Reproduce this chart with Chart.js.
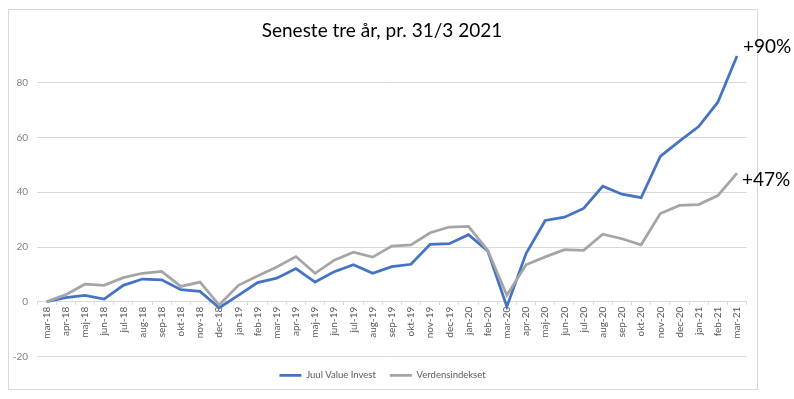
<!DOCTYPE html>
<html>
<head>
<meta charset="utf-8">
<script src="https://cdn.jsdelivr.net/npm/chart.js@4/dist/chart.umd.min.js"></script>
<style>
    html, body { margin: 0; padding: 0; background: #ffffff; }
    #wrap { width: 794px; height: 399px; }
</style>
</head>
<body>
<div id="wrap"><canvas id="returnChart"></canvas></div>
<script>
const months = ['mar-18', 'apr-18', 'maj-18', 'jun-18', 'jul-18', 'aug-18', 'sep-18', 'okt-18', 'nov-18', 'dec-18',
    'jan-19', 'feb-19', 'mar-19', 'apr-19', 'maj-19', 'jun-19', 'jul-19', 'aug-19', 'sep-19', 'okt-19', 'nov-19', 'dec-19',
    'jan-20', 'feb-20', 'mar-20', 'apr-20', 'maj-20', 'jun-20', 'jul-20', 'aug-20', 'sep-20', 'okt-20', 'nov-20', 'dec-20',
    'jan-21', 'feb-21', 'mar-21'];

const juulValues = [0, 1.5, 2.3, 1.0, 6.0, 8.3, 8.0, 4.4, 3.8, -2.2,
    2.3, 7.0, 8.6, 12.1, 7.2, 11.0, 13.5, 10.4, 12.8, 13.7, 21.0, 21.2,
    24.5, 18.6, -1.8, 17.6, 29.7, 30.9, 34.1, 42.2, 39.3, 38.0, 53.1, 58.7,
    64.0, 72.9, 89.8];

const verdenValues = [0, 2.6, 6.4, 6.0, 8.8, 10.4, 11.1, 5.6, 7.2, -1.2,
    6.0, 9.4, 12.7, 16.5, 10.4, 15.2, 18.1, 16.3, 20.3, 20.8, 25.2, 27.3,
    27.5, 18.8, 2.4, 13.5, 16.4, 19.0, 18.8, 24.7, 23.0, 20.8, 32.2, 35.2,
    35.5, 38.8, 47.0];

const seriesNames = ['Juul Value Invest', 'Verdensindekset'];
const endLabels = ['+90%', '+47%'];
const chartTitle = 'Seneste tre år, pr. 31/3 2021';

const FONT = 'Lato, "Open Sans", sans-serif';

// frame + title + end labels, drawn on the canvas
const decorPlugin = {
    id: 'decor',
    beforeDraw(chart) {
        const ctx = chart.ctx;
        ctx.save();
        ctx.strokeStyle = '#d9d9d9';
        ctx.lineWidth = 1;
        ctx.strokeRect(8.5, 9.5, 749, 380);
        ctx.restore();
    },
    afterDraw(chart) {
        const ctx = chart.ctx;
        ctx.save();
        ctx.fillStyle = '#000000';
        ctx.font = '19px ' + FONT;
        ctx.textAlign = 'center';
        ctx.textBaseline = 'middle';
        ctx.fillText(chartTitle, 382, 31);

        ctx.font = '19px ' + FONT;
        ctx.textAlign = 'left';
        const offsets = [[6, -9], [5, 7]];
        chart.data.datasets.forEach((ds, i) => {
            const meta = chart.getDatasetMeta(i);
            const last = meta.data[meta.data.length - 1];
            ctx.fillText(endLabels[i], last.x + offsets[i][0], last.y + offsets[i][1]);
        });
        ctx.restore();
    }
};

const ctx = document.getElementById('returnChart').getContext('2d');

const myChart = new Chart(ctx, {
    type: 'line',
    data: {
        labels: months,
        datasets: [
            {
                label: seriesNames[0],
                data: juulValues,
                borderColor: '#4472c4',
                backgroundColor: '#4472c4',
                borderWidth: 2.75,
                pointRadius: 0,
                tension: 0,
                order: 2,
            },
            {
                label: seriesNames[1],
                data: verdenValues,
                borderColor: '#a5a5a5',
                backgroundColor: '#a5a5a5',
                borderWidth: 2.75,
                pointRadius: 0,
                tension: 0,
                order: 1,
            },
        ],
    },
    options: {
        responsive: true,
        maintainAspectRatio: false,
        animation: false,
        layout: {
            padding: { left: 8, right: 37, top: 28, bottom: 9 },
        },
        plugins: {
            legend: {
                display: true,
                position: 'bottom',
                labels: {
                    usePointStyle: true,
                    pointStyle: 'line',
                    pointStyleWidth: 22,
                    boxHeight: 9,
                    color: '#595959',
                    font: { family: FONT, size: 9.5 },
                    padding: 14,
                    sort: (a, b) => a.datasetIndex - b.datasetIndex,
                },
            },
            tooltip: { enabled: false },
        },
        scales: {
            x: {
                type: 'category',
                offset: true,
                position: { y: 0 },
                grid: {
                    offset: true,
                    drawOnChartArea: false,
                    drawTicks: true,
                    tickLength: 3,
                    color: '#d9d9d9',
                },
                border: { display: true, color: '#d9d9d9' },
                ticks: {
                    autoSkip: false,
                    minRotation: 90,
                    maxRotation: 90,
                    padding: 2,
                    color: '#595959',
                    font: { family: FONT, size: 10 },
                },
            },
            y: {
                min: -20,
                max: 100,
                afterFit: (scale) => { scale.width = 29; },
                grid: {
                    drawTicks: false,
                    color: (c) => c.tick && c.tick.value === 100 ? 'rgba(0,0,0,0)' : '#d9d9d9',
                },
                border: { display: false },
                ticks: {
                    stepSize: 20,
                    padding: 9,
                    color: '#7f7f7f',
                    font: { family: FONT, size: 10 },
                    callback: (v) => v === 100 ? '' : v,
                },
            },
            yRight: {
                position: 'right',
                afterFit: (scale) => { scale.width = 10.4; },
                grid: { display: false },
                border: { display: false },
                ticks: { display: false },
            },
        },
    },
    plugins: [decorPlugin],
});
</script>
</body>
</html>
